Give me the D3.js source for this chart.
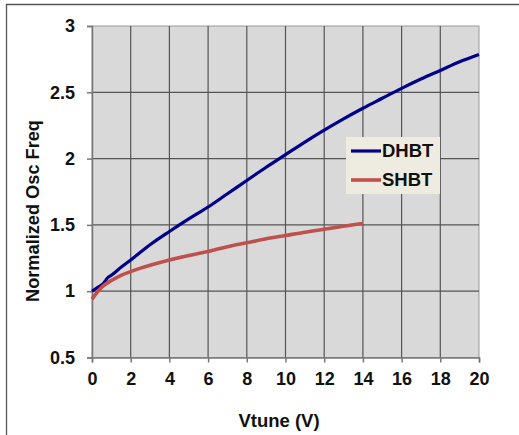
<!DOCTYPE html>
<html>
<head>
<meta charset="utf-8">
<script src="https://cdn.jsdelivr.net/npm/d3@7"></script>
<style>
  body { margin: 0; background: #fff; }
  text { font-family: "Liberation Sans", Arial, sans-serif; font-weight: bold; fill: #111; }
</style>
</head>
<body>
<div id="chart"></div>
<script>
// Data
let dhbtV = [0, 0.3, 0.6, 0.7, 0.8, 1, 1.5, 2, 3, 4, 5, 6, 7, 8, 9, 10, 11, 12, 13, 14, 15, 16, 17, 18, 19, 20];
let dhbtF = [1.0, 1.03, 1.06, 1.08, 1.10, 1.12, 1.18, 1.235, 1.35, 1.45, 1.545, 1.635, 1.735, 1.835, 1.935, 2.03, 2.125, 2.215, 2.30, 2.38, 2.455, 2.53, 2.60, 2.665, 2.73, 2.785];
let shbtV = [0, 0.2, 0.5, 1, 1.5, 2, 3, 4, 5, 6, 7, 8, 9, 10, 11, 12, 13, 14];
let shbtF = [0.94, 0.98, 1.03, 1.08, 1.12, 1.148, 1.195, 1.235, 1.27, 1.30, 1.335, 1.365, 1.395, 1.42, 1.445, 1.467, 1.49, 1.51];
let seriesNames = ["DHBT", "SHBT"];
let seriesColors = ["#00008b", "#c0504d"];
let xTicks = [0, 2, 4, 6, 8, 10, 12, 14, 16, 18, 20];
let yTicks = [0.5, 1, 1.5, 2, 2.5, 3];

let width = 519, height = 435;
let plotLeft = 92, plotRight = 479, plotTop = 26, plotBottom = 357.5;

let svg = d3.select("#chart")
  .append("svg")
  .attr("width", width)
  .attr("height", height);

// outer frame lines (top and left only visible)
svg.append("line").attr("x1", 6).attr("x2", width).attr("y1", 4.5).attr("y2", 4.5)
  .attr("stroke", "#555").attr("stroke-width", 1.3);
svg.append("line").attr("x1", 6.5).attr("x2", 6.5).attr("y1", 4).attr("y2", height)
  .attr("stroke", "#555").attr("stroke-width", 1.3);

let x = d3.scaleLinear().domain([0, 20]).range([plotLeft, plotRight]);
let y = d3.scaleLinear().domain([0.5, 3]).range([plotBottom, plotTop]);

// plot background
svg.append("rect")
  .attr("x", plotLeft).attr("y", plotTop)
  .attr("width", plotRight - plotLeft).attr("height", plotBottom - plotTop)
  .attr("fill", "#d9d9d9")
  .attr("stroke", "#9a9a9a");

// grid
svg.selectAll(".vgrid")
  .data(xTicks.slice(1, -1))
  .enter()
  .append("line")
  .attr("x1", d => x(d)).attr("x2", d => x(d))
  .attr("y1", plotTop).attr("y2", plotBottom)
  .attr("stroke", "#555").attr("stroke-width", 1.2);

svg.selectAll(".hgrid")
  .data(yTicks.slice(1, -1))
  .enter()
  .append("line")
  .attr("x1", plotLeft).attr("x2", plotRight)
  .attr("y1", d => y(d)).attr("y2", d => y(d))
  .attr("stroke", "#555").attr("stroke-width", 1.2);

// axes
let xAxis = d3.axisBottom(x).tickValues(xTicks).tickSize(5).tickPadding(10).tickFormat(d3.format("d"));
let yAxis = d3.axisLeft(y).tickValues(yTicks).tickSize(5).tickPadding(12).tickFormat(d => d);

svg.append("g")
  .attr("transform", "translate(0," + plotBottom + ")")
  .call(xAxis)
  .call(styleAxis);

svg.append("g")
  .attr("transform", "translate(" + plotLeft + ",0)")
  .call(yAxis)
  .call(styleAxis);

function styleAxis(g) {
  g.attr("font-size", null).attr("font-family", null);
  g.select(".domain").attr("stroke", "#777").attr("stroke-width", 1.5);
  g.selectAll(".tick line").attr("stroke", "#777").attr("stroke-width", 1.5);
  g.selectAll(".tick text")
    .style("font-size", "18px")
    .style("font-weight", "bold")
    .style("fill", "#111");
}

// lines
let line = d3.line()
  .x(d => x(d[0]))
  .y(d => y(d[1]))
  .curve(d3.curveMonotoneX);

let series = [
  d3.zip(dhbtV, dhbtF),
  d3.zip(shbtV, shbtF)
];

svg.selectAll(".series")
  .data(series)
  .enter()
  .append("path")
  .attr("d", line)
  .attr("fill", "none")
  .attr("stroke", (d, i) => seriesColors[i])
  .attr("stroke-width", (d, i) => i == 0 ? 3.2 : 3.6)
  .attr("stroke-linejoin", "round");

// legend
let legend = svg.append("g").attr("transform", "translate(346,137)");
legend.append("rect")
  .attr("width", 94).attr("height", 57)
  .attr("fill", "#eeece1");
let items = legend.selectAll(".item")
  .data(seriesNames)
  .enter()
  .append("g")
  .attr("transform", (d, i) => "translate(0," + (14 + i * 29) + ")");
items.append("line")
  .attr("x1", 5).attr("x2", 35)
  .attr("stroke", (d, i) => seriesColors[i])
  .attr("stroke-width", (d, i) => i == 0 ? 3.2 : 3.6);
items.append("text")
  .attr("x", 36).attr("y", 6)
  .style("font-size", "18.5px")
  .text(d => d);

// axis titles
svg.append("text")
  .attr("x", 279).attr("y", 427)
  .attr("text-anchor", "middle")
  .style("font-size", "18.5px")
  .text("Vtune (V)");

svg.append("text")
  .attr("transform", "translate(39,211) rotate(-90)")
  .attr("text-anchor", "middle")
  .style("font-size", "18.2px")
  .text("Normalized Osc Freq");
</script>
</body>
</html>
